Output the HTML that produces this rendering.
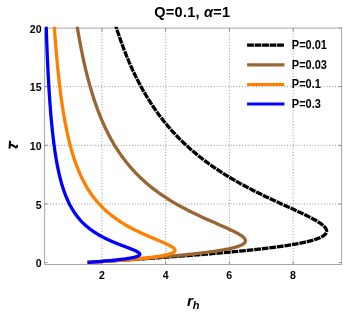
<!DOCTYPE html>
<html><head><meta charset="utf-8"><style>
html,body{margin:0;padding:0;background:#fff;}
body{width:343px;height:312px;position:relative;overflow:hidden;font-family:"Liberation Sans",sans-serif;}
svg text{font-family:"Liberation Sans",sans-serif;fill:#000;}
</style></head><body>
<svg width="343" height="312" viewBox="0 0 343 312" style="position:absolute;left:0;top:0;will-change:transform"><defs><clipPath id="cp"><rect x="44.6" y="26.8" width="297.0" height="237.70000000000002"/></clipPath></defs><g stroke="#8c8c8c" stroke-width="1" stroke-dasharray="0.9 1.92" fill="none"><line x1="101.94" y1="28.1" x2="101.94" y2="264.5"/><line x1="165.68" y1="28.1" x2="165.68" y2="264.5"/><line x1="229.42" y1="28.1" x2="229.42" y2="264.5"/><line x1="293.16" y1="28.1" x2="293.16" y2="264.5"/><line x1="44.6" y1="203.95" x2="341.6" y2="203.95"/><line x1="44.6" y1="145.30" x2="341.6" y2="145.30"/><line x1="44.6" y1="86.65" x2="341.6" y2="86.65"/></g><rect x="44.6" y="28.1" width="297.0" height="236.4" fill="none" stroke="#a8a8a8" stroke-width="1"/><g stroke="#8c8c8c" stroke-width="1" fill="none"><line x1="101.94" y1="264.5" x2="101.94" y2="261.5"/><line x1="101.94" y1="28.1" x2="101.94" y2="31.1"/><line x1="165.68" y1="264.5" x2="165.68" y2="261.5"/><line x1="165.68" y1="28.1" x2="165.68" y2="31.1"/><line x1="229.42" y1="264.5" x2="229.42" y2="261.5"/><line x1="229.42" y1="28.1" x2="229.42" y2="31.1"/><line x1="293.16" y1="264.5" x2="293.16" y2="261.5"/><line x1="293.16" y1="28.1" x2="293.16" y2="31.1"/><line x1="44.6" y1="262.60" x2="47.6" y2="262.60"/><line x1="341.6" y1="262.60" x2="338.6" y2="262.60"/><line x1="44.6" y1="203.95" x2="47.6" y2="203.95"/><line x1="341.6" y1="203.95" x2="338.6" y2="203.95"/><line x1="44.6" y1="145.30" x2="47.6" y2="145.30"/><line x1="341.6" y1="145.30" x2="338.6" y2="145.30"/><line x1="44.6" y1="86.65" x2="47.6" y2="86.65"/><line x1="341.6" y1="86.65" x2="338.6" y2="86.65"/><line x1="44.6" y1="28.00" x2="47.6" y2="28.00"/><line x1="341.6" y1="28.00" x2="338.6" y2="28.00"/></g><g clip-path="url(#cp)"><path d="M87.59,262.45L89.88,262.30L92.18,262.16L94.47,262.01L96.76,261.86L99.05,261.71L101.33,261.57L103.61,261.42L105.88,261.27L108.15,261.12L110.41,260.98L112.67,260.83L114.92,260.68L117.16,260.54L119.40,260.39L121.64,260.24L123.86,260.09L126.08,259.95L128.30,259.80L130.50,259.65L132.70,259.51L134.89,259.36L137.08,259.21L139.25,259.06L141.42,258.92L143.58,258.77L145.73,258.62L147.87,258.47L150.00,258.33L152.13,258.18L154.24,258.03L156.34,257.89L158.44,257.74L160.52,257.59L162.60,257.44L164.66,257.30L166.71,257.15L168.76,257.00L170.79,256.85L172.81,256.71L174.82,256.56L176.82,256.41L178.80,256.27L180.78,256.12L182.74,255.97L184.69,255.82L186.63,255.68L188.56,255.53L190.47,255.38L192.37,255.24L194.26,255.09L196.14,254.94L198.01,254.79L199.86,254.65L201.69,254.50L203.52,254.35L205.33,254.20L207.13,254.06L208.91,253.91L210.68,253.76L212.44,253.62L214.18,253.47L215.91,253.32L217.63,253.17L219.33,253.03L221.02,252.88L222.69,252.73L224.35,252.59L226.00,252.44L227.63,252.29L229.24,252.14L230.85,252.00L232.43,251.85L234.01,251.70L235.56,251.55L237.11,251.41L238.64,251.26L240.15,251.11L241.65,250.97L243.14,250.82L244.61,250.67L246.06,250.52L247.50,250.38L248.93,250.23L250.34,250.08L251.73,249.93L253.12,249.79L254.48,249.64L255.83,249.49L257.17,249.35L258.49,249.20L259.80,249.05L261.09,248.90L262.37,248.76L263.63,248.61L264.88,248.46L266.11,248.32L267.33,248.17L268.54,248.02L269.73,247.87L270.90,247.73L272.06,247.58L273.21,247.43L274.34,247.28L275.45,247.14L276.55,246.99L277.64,246.84L278.72,246.70L279.77,246.55L280.82,246.40L281.85,246.25L282.87,246.11L283.87,245.96L284.86,245.81L285.83,245.66L286.79,245.52L287.74,245.37L288.67,245.22L289.59,245.08L290.50,244.93L291.39,244.78L292.27,244.63L293.13,244.49L293.98,244.34L294.82,244.19L295.65,244.05L296.46,243.90L297.26,243.75L298.04,243.60L298.82,243.46L299.58,243.31L300.32,243.16L301.06,243.01L301.78,242.87L302.49,242.72L303.19,242.57L303.87,242.43L304.55,242.28L305.21,242.13L305.85,241.98L306.49,241.84L307.12,241.69L307.73,241.54L308.33,241.39L308.92,241.25L309.50,241.10L310.06,240.95L310.62,240.81L311.16,240.66L311.69,240.51L312.21,240.36L312.73,240.22L313.22,240.07L313.71,239.92L314.19,239.78L314.66,239.63L315.11,239.48L315.56,239.33L316.00,239.19L316.42,239.04L316.84,238.89L317.24,238.74L317.64,238.60L318.02,238.45L318.40,238.30L318.76,238.16L319.12,238.01L319.47,237.86L319.80,237.71L320.13,237.57L320.45,237.42L320.76,237.27L321.06,237.12L321.35,236.98L321.64,236.83L321.91,236.68L322.17,236.54L322.43,236.39L322.68,236.24L322.92,236.09L323.15,235.95L323.37,235.80L323.59,235.65L323.79,235.51L323.99,235.36L324.18,235.21L324.36,235.06L324.54,234.92L324.71,234.77L324.87,234.62L325.02,234.47L325.16,234.33L325.30,234.18L325.43,234.03L325.55,233.89L325.67,233.74L325.78,233.59L325.88,233.44L325.98,233.30L326.06,233.15L326.15,233.00L326.22,232.86L326.29,232.71L326.35,232.56L326.41,232.41L326.46,232.27L326.50,232.12L326.54,231.97L326.57,231.82L326.60,231.68L326.61,231.53L326.63,231.38L326.64,231.24L326.64,231.09L326.63,230.94L326.63,230.79L326.61,230.65L326.59,230.50L326.57,230.35L326.54,230.20L326.50,230.06L326.46,229.91L326.41,229.76L326.36,229.62L326.31,229.47L326.25,229.32L326.18,229.17L326.11,229.03L326.04,228.88L325.96,228.73L325.87,228.59L325.78,228.44L325.69,228.29L325.60,228.14L325.49,228.00L325.39,227.85L325.28,227.70L325.16,227.55L325.05,227.41L324.92,227.26L323.96,226.22L322.81,225.19L321.51,224.15L320.07,223.11L318.50,222.07L316.82,221.04L315.03,220.00L313.17,218.96L311.22,217.92L309.21,216.89L307.14,215.85L305.03,214.81L302.87,213.77L300.68,212.74L298.47,211.70L296.23,210.66L293.97,209.62L291.71,208.59L289.43,207.55L287.16,206.51L284.88,205.47L282.61,204.44L280.35,203.40L278.09,202.36L275.84,201.32L273.61,200.29L271.39,199.25L269.19,198.21L267.00,197.17L264.84,196.14L262.69,195.10L260.57,194.06L258.47,193.02L256.39,191.99L254.33,190.95L252.29,189.91L250.28,188.88L248.30,187.84L246.33,186.80L244.40,185.76L242.48,184.73L240.59,183.69L238.73,182.65L236.89,181.61L235.07,180.58L233.28,179.54L231.52,178.50L229.77,177.46L228.05,176.43L226.36,175.39L224.69,174.35L223.04,173.31L221.41,172.28L219.81,171.24L218.23,170.20L216.67,169.16L215.14,168.13L213.62,167.09L212.13,166.05L210.66,165.01L209.21,163.98L207.78,162.94L206.37,161.90L204.98,160.86L203.61,159.83L202.26,158.79L200.92,157.75L199.61,156.71L198.31,155.68L197.04,154.64L195.78,153.60L194.53,152.57L193.31,151.53L192.10,150.49L190.91,149.45L189.73,148.42L188.57,147.38L187.43,146.34L186.30,145.30L185.19,144.27L184.09,143.23L183.01,142.19L181.94,141.15L180.88,140.12L179.84,139.08L178.82,138.04L177.80,137.00L176.80,135.97L175.82,134.93L174.84,133.89L173.88,132.85L172.93,131.82L171.99,130.78L171.07,129.74L170.15,128.70L169.25,127.67L168.36,126.63L167.48,125.59L166.62,124.55L165.76,123.52L164.91,122.48L164.07,121.44L163.25,120.41L162.43,119.37L161.63,118.33L160.83,117.29L160.04,116.26L159.27,115.22L158.50,114.18L157.74,113.14L156.99,112.11L156.25,111.07L155.52,110.03L154.79,108.99L154.08,107.96L153.37,106.92L152.67,105.88L151.98,104.84L151.30,103.81L150.62,102.77L149.95,101.73L149.29,100.69L148.64,99.66L147.99,98.62L147.36,97.58L146.72,96.54L146.10,95.51L145.48,94.47L144.87,93.43L144.27,92.39L143.67,91.36L143.08,90.32L142.49,89.28L141.91,88.24L141.34,87.21L140.78,86.17L140.21,85.13L139.66,84.10L139.11,83.06L138.57,82.02L138.03,80.98L137.50,79.95L136.97,78.91L136.45,77.87L135.93,76.83L135.42,75.80L134.92,74.76L134.42,73.72L133.92,72.68L133.43,71.65L132.94,70.61L132.46,69.57L131.99,68.53L131.51,67.50L131.05,66.46L130.58,65.42L130.13,64.38L129.67,63.35L129.22,62.31L128.78,61.27L128.34,60.23L127.90,59.20L127.47,58.16L127.04,57.12L126.61,56.08L126.19,55.05L125.78,54.01L125.36,52.97L124.95,51.93L124.55,50.90L124.15,49.86L123.75,48.82L123.35,47.79L122.96,46.75L122.57,45.71L122.19,44.67L121.81,43.64L121.43,42.60L121.06,41.56L120.69,40.52L120.32,39.49L119.95,38.45L119.59,37.41L119.23,36.37L118.88,35.34L118.53,34.30L118.18,33.26L117.83,32.22L117.49,31.19L117.15,30.15L116.81,29.11L116.47,28.07L116.14,27.04L115.81,26.00L115.49,24.96L115.16,23.92L114.84,22.89L114.52,21.85L114.21,20.81" stroke="#000" stroke-width="3.3" fill="none" stroke-linejoin="round" stroke-dasharray="6.7 0.9"/><path d="M87.59,262.45L89.70,262.30L91.81,262.16L93.92,262.01L96.02,261.86L98.12,261.71L100.22,261.57L102.31,261.42L104.40,261.27L106.48,261.12L108.56,260.98L110.63,260.83L112.69,260.68L114.74,260.54L116.79,260.39L118.83,260.24L120.86,260.09L122.88,259.95L124.89,259.80L126.89,259.65L128.88,259.51L130.86,259.36L132.82,259.21L134.78,259.06L136.72,258.92L138.66,258.77L140.57,258.62L142.48,258.47L144.37,258.33L146.25,258.18L148.11,258.03L149.96,257.89L151.80,257.74L153.62,257.59L155.42,257.44L157.21,257.30L158.98,257.15L160.73,257.00L162.47,256.85L164.20,256.71L165.90,256.56L167.59,256.41L169.26,256.27L170.91,256.12L172.55,255.97L174.16,255.82L175.76,255.68L177.34,255.53L178.91,255.38L180.45,255.24L181.97,255.09L183.48,254.94L184.96,254.79L186.43,254.65L187.88,254.50L189.31,254.35L190.71,254.20L192.10,254.06L193.47,253.91L194.82,253.76L196.15,253.62L197.46,253.47L198.75,253.32L200.02,253.17L201.27,253.03L202.50,252.88L203.71,252.73L204.90,252.59L206.08,252.44L207.23,252.29L208.36,252.14L209.47,252.00L210.56,251.85L211.63,251.70L212.69,251.55L213.72,251.41L214.73,251.26L215.73,251.11L216.70,250.97L217.66,250.82L218.59,250.67L219.51,250.52L220.41,250.38L221.29,250.23L222.15,250.08L222.99,249.93L223.82,249.79L224.62,249.64L225.41,249.49L226.18,249.35L226.93,249.20L227.67,249.05L228.38,248.90L229.08,248.76L229.76,248.61L230.43,248.46L231.07,248.32L231.70,248.17L232.32,248.02L232.91,247.87L233.49,247.73L234.06,247.58L234.60,247.43L235.13,247.28L235.65,247.14L236.15,246.99L236.64,246.84L237.11,246.70L237.56,246.55L238.00,246.40L238.43,246.25L238.84,246.11L239.23,245.96L239.61,245.81L239.98,245.66L240.34,245.52L240.68,245.37L241.00,245.22L241.32,245.08L241.62,244.93L241.91,244.78L242.18,244.63L242.44,244.49L242.69,244.34L242.93,244.19L243.16,244.05L243.37,243.90L243.57,243.75L243.76,243.60L243.94,243.46L244.11,243.31L244.27,243.16L244.42,243.01L244.55,242.87L244.68,242.72L244.79,242.57L244.90,242.43L244.99,242.28L245.07,242.13L245.15,241.98L245.22,241.84L245.27,241.69L245.32,241.54L245.36,241.39L245.39,241.25L245.41,241.10L245.42,240.95L245.42,240.81L245.42,240.66L245.40,240.51L245.38,240.36L245.35,240.22L245.32,240.07L245.27,239.92L245.22,239.78L245.16,239.63L245.10,239.48L245.02,239.33L244.94,239.19L244.86,239.04L244.76,238.89L244.66,238.74L244.56,238.60L244.44,238.45L244.32,238.30L244.20,238.16L244.07,238.01L243.93,237.86L243.79,237.71L243.64,237.57L243.49,237.42L243.33,237.27L243.17,237.12L243.00,236.98L242.83,236.83L242.65,236.68L242.47,236.54L242.28,236.39L242.09,236.24L241.89,236.09L241.69,235.95L241.49,235.80L241.28,235.65L241.06,235.51L240.85,235.36L240.63,235.21L240.40,235.06L240.17,234.92L239.94,234.77L239.70,234.62L239.47,234.47L239.22,234.33L238.98,234.18L238.73,234.03L238.48,233.89L238.22,233.74L237.96,233.59L237.70,233.44L237.44,233.30L237.17,233.15L236.90,233.00L236.63,232.86L236.36,232.71L236.08,232.56L235.80,232.41L235.52,232.27L235.24,232.12L234.95,231.97L234.66,231.82L234.37,231.68L234.08,231.53L233.79,231.38L233.49,231.24L233.19,231.09L232.89,230.94L232.59,230.79L232.29,230.65L231.98,230.50L231.68,230.35L231.37,230.20L231.06,230.06L230.75,229.91L230.44,229.76L230.12,229.62L229.81,229.47L229.49,229.32L229.18,229.17L228.86,229.03L228.54,228.88L228.22,228.73L227.90,228.59L227.58,228.44L227.25,228.29L226.93,228.14L226.60,228.00L226.28,227.85L225.95,227.70L225.63,227.55L225.30,227.41L224.97,227.26L222.64,226.22L220.29,225.19L217.92,224.15L215.56,223.11L213.20,222.07L210.85,221.04L208.51,220.00L206.19,218.96L203.90,217.92L201.64,216.89L199.40,215.85L197.20,214.81L195.03,213.77L192.89,212.74L190.79,211.70L188.72,210.66L186.69,209.62L184.70,208.59L182.74,207.55L180.82,206.51L178.94,205.47L177.10,204.44L175.29,203.40L173.52,202.36L171.78,201.32L170.08,200.29L168.41,199.25L166.77,198.21L165.17,197.17L163.61,196.14L162.07,195.10L160.56,194.06L159.09,193.02L157.65,191.99L156.23,190.95L154.85,189.91L153.49,188.88L152.16,187.84L150.85,186.80L149.57,185.76L148.32,184.73L147.09,183.69L145.89,182.65L144.71,181.61L143.55,180.58L142.42,179.54L141.31,178.50L140.22,177.46L139.15,176.43L138.10,175.39L137.07,174.35L136.06,173.31L135.07,172.28L134.09,171.24L133.14,170.20L132.20,169.16L131.28,168.13L130.37,167.09L129.49,166.05L128.61,165.01L127.76,163.98L126.92,162.94L126.09,161.90L125.28,160.86L124.48,159.83L123.69,158.79L122.92,157.75L122.17,156.71L121.42,155.68L120.69,154.64L119.97,153.60L119.26,152.57L118.56,151.53L117.87,150.49L117.20,149.45L116.54,148.42L115.88,147.38L115.24,146.34L114.61,145.30L113.98,144.27L113.37,143.23L112.77,142.19L112.17,141.15L111.59,140.12L111.01,139.08L110.44,138.04L109.88,137.00L109.33,135.97L108.79,134.93L108.25,133.89L107.73,132.85L107.21,131.82L106.69,130.78L106.19,129.74L105.69,128.70L105.20,127.67L104.72,126.63L104.24,125.59L103.77,124.55L103.30,123.52L102.85,122.48L102.40,121.44L101.95,120.41L101.51,119.37L101.08,118.33L100.65,117.29L100.23,116.26L99.81,115.22L99.40,114.18L98.99,113.14L98.59,112.11L98.20,111.07L97.81,110.03L97.42,108.99L97.04,107.96L96.67,106.92L96.29,105.88L95.93,104.84L95.56,103.81L95.21,102.77L94.85,101.73L94.50,100.69L94.16,99.66L93.82,98.62L93.48,97.58L93.15,96.54L92.82,95.51L92.50,94.47L92.17,93.43L91.86,92.39L91.54,91.36L91.23,90.32L90.93,89.28L90.62,88.24L90.32,87.21L90.03,86.17L89.73,85.13L89.44,84.10L89.16,83.06L88.87,82.02L88.59,80.98L88.32,79.95L88.04,78.91L87.77,77.87L87.50,76.83L87.23,75.80L86.97,74.76L86.71,73.72L86.45,72.68L86.20,71.65L85.95,70.61L85.70,69.57L85.45,68.53L85.21,67.50L84.96,66.46L84.72,65.42L84.49,64.38L84.25,63.35L84.02,62.31L83.79,61.27L83.56,60.23L83.34,59.20L83.11,58.16L82.89,57.12L82.67,56.08L82.46,55.05L82.24,54.01L82.03,52.97L81.82,51.93L81.61,50.90L81.40,49.86L81.20,48.82L81.00,47.79L80.79,46.75L80.60,45.71L80.40,44.67L80.20,43.64L80.01,42.60L79.82,41.56L79.63,40.52L79.44,39.49L79.25,38.45L79.07,37.41L78.88,36.37L78.70,35.34L78.52,34.30L78.34,33.26L78.16,32.22L77.99,31.19L77.81,30.15L77.64,29.11L77.47,28.07L77.30,27.04L77.13,26.00L76.97,24.96L76.80,23.92L76.64,22.89L76.48,21.85L76.31,20.81" stroke="#996633" stroke-width="3.3" fill="none" stroke-linejoin="round"/><path d="M87.59,262.45L90.15,262.30L92.65,262.16L95.10,262.01L97.51,261.86L99.86,261.71L102.17,261.57L104.44,261.42L106.66,261.27L108.84,261.12L110.98,260.98L113.07,260.83L115.13,260.68L117.14,260.54L119.12,260.39L121.05,260.24L122.95,260.09L124.81,259.95L126.62,259.80L128.40,259.65L130.14,259.51L131.84,259.36L133.51,259.21L135.13,259.06L136.72,258.92L138.27,258.77L139.78,258.62L141.25,258.47L142.68,258.33L144.08,258.18L145.44,258.03L146.77,257.89L148.06,257.74L149.31,257.59L150.52,257.44L151.70,257.30L152.85,257.15L153.96,257.00L155.03,256.85L156.08,256.71L157.08,256.56L158.06,256.41L159.00,256.27L159.91,256.12L160.79,255.97L161.63,255.82L162.44,255.68L163.23,255.53L163.98,255.38L164.70,255.24L165.40,255.09L166.06,254.94L166.70,254.79L167.31,254.65L167.89,254.50L168.44,254.35L168.97,254.20L169.47,254.06L169.95,253.91L170.40,253.76L170.82,253.62L171.23,253.47L171.61,253.32L171.96,253.17L172.30,253.03L172.61,252.88L172.90,252.73L173.17,252.59L173.42,252.44L173.65,252.29L173.86,252.14L174.05,252.00L174.23,251.85L174.38,251.70L174.52,251.55L174.64,251.41L174.74,251.26L174.83,251.11L174.90,250.97L174.95,250.82L174.99,250.67L175.02,250.52L175.03,250.38L175.03,250.23L175.01,250.08L174.98,249.93L174.94,249.79L174.89,249.64L174.82,249.49L174.74,249.35L174.66,249.20L174.56,249.05L174.45,248.90L174.33,248.76L174.20,248.61L174.06,248.46L173.91,248.32L173.75,248.17L173.58,248.02L173.41,247.87L173.22,247.73L173.03,247.58L172.83,247.43L172.63,247.28L172.41,247.14L172.19,246.99L171.97,246.84L171.74,246.70L171.50,246.55L171.25,246.40L171.00,246.25L170.75,246.11L170.48,245.96L170.22,245.81L169.95,245.66L169.67,245.52L169.39,245.37L169.11,245.22L168.82,245.08L168.53,244.93L168.23,244.78L167.93,244.63L167.63,244.49L167.32,244.34L167.01,244.19L166.70,244.05L166.39,243.90L166.07,243.75L165.75,243.60L165.43,243.46L165.10,243.31L164.77,243.16L164.44,243.01L164.11,242.87L163.78,242.72L163.45,242.57L163.11,242.43L162.77,242.28L162.43,242.13L162.09,241.98L161.75,241.84L161.41,241.69L161.06,241.54L160.72,241.39L160.37,241.25L160.03,241.10L159.68,240.95L159.33,240.81L158.98,240.66L158.64,240.51L158.29,240.36L157.94,240.22L157.59,240.07L157.24,239.92L156.89,239.78L156.54,239.63L156.19,239.48L155.84,239.33L155.48,239.19L155.13,239.04L154.78,238.89L154.43,238.74L154.09,238.60L153.74,238.45L153.39,238.30L153.04,238.16L152.69,238.01L152.34,237.86L152.00,237.71L151.65,237.57L151.30,237.42L150.96,237.27L150.61,237.12L150.27,236.98L149.92,236.83L149.58,236.68L149.24,236.54L148.90,236.39L148.56,236.24L148.22,236.09L147.88,235.95L147.54,235.80L147.20,235.65L146.87,235.51L146.53,235.36L146.20,235.21L145.86,235.06L145.53,234.92L145.20,234.77L144.87,234.62L144.54,234.47L144.21,234.33L143.88,234.18L143.56,234.03L143.23,233.89L142.91,233.74L142.58,233.59L142.26,233.44L141.94,233.30L141.62,233.15L141.30,233.00L140.98,232.86L140.67,232.71L140.35,232.56L140.04,232.41L139.73,232.27L139.41,232.12L139.10,231.97L138.79,231.82L138.49,231.68L138.18,231.53L137.87,231.38L137.57,231.24L137.27,231.09L136.96,230.94L136.66,230.79L136.36,230.65L136.06,230.50L135.77,230.35L135.47,230.20L135.18,230.06L134.88,229.91L134.59,229.76L134.30,229.62L134.01,229.47L133.72,229.32L133.43,229.17L133.15,229.03L132.86,228.88L132.58,228.73L132.30,228.59L132.01,228.44L131.73,228.29L131.45,228.14L131.18,228.00L130.90,227.85L130.63,227.70L130.35,227.55L130.08,227.41L129.81,227.26L127.93,226.22L126.11,225.19L124.34,224.15L122.63,223.11L120.98,222.07L119.38,221.04L117.83,220.00L116.33,218.96L114.88,217.92L113.47,216.89L112.11,215.85L110.79,214.81L109.51,213.77L108.27,212.74L107.07,211.70L105.91,210.66L104.78,209.62L103.68,208.59L102.62,207.55L101.59,206.51L100.59,205.47L99.61,204.44L98.67,203.40L97.75,202.36L96.86,201.32L95.99,200.29L95.15,199.25L94.32,198.21L93.52,197.17L92.75,196.14L91.99,195.10L91.25,194.06L90.53,193.02L89.83,191.99L89.15,190.95L88.48,189.91L87.83,188.88L87.20,187.84L86.58,186.80L85.98,185.76L85.39,184.73L84.81,183.69L84.25,182.65L83.70,181.61L83.17,180.58L82.64,179.54L82.13,178.50L81.63,177.46L81.14,176.43L80.66,175.39L80.19,174.35L79.73,173.31L79.28,172.28L78.84,171.24L78.41,170.20L77.98,169.16L77.57,168.13L77.16,167.09L76.77,166.05L76.38,165.01L75.99,163.98L75.62,162.94L75.25,161.90L74.89,160.86L74.54,159.83L74.19,158.79L73.85,157.75L73.52,156.71L73.19,155.68L72.87,154.64L72.55,153.60L72.24,152.57L71.93,151.53L71.63,150.49L71.34,149.45L71.05,148.42L70.76,147.38L70.48,146.34L70.21,145.30L69.94,144.27L69.67,143.23L69.41,142.19L69.15,141.15L68.90,140.12L68.65,139.08L68.40,138.04L68.16,137.00L67.92,135.97L67.69,134.93L67.46,133.89L67.23,132.85L67.01,131.82L66.79,130.78L66.57,129.74L66.36,128.70L66.15,127.67L65.94,126.63L65.74,125.59L65.54,124.55L65.34,123.52L65.14,122.48L64.95,121.44L64.76,120.41L64.57,119.37L64.39,118.33L64.20,117.29L64.02,116.26L63.85,115.22L63.67,114.18L63.50,113.14L63.33,112.11L63.16,111.07L63.00,110.03L62.83,108.99L62.67,107.96L62.51,106.92L62.35,105.88L62.20,104.84L62.05,103.81L61.89,102.77L61.74,101.73L61.60,100.69L61.45,99.66L61.31,98.62L61.17,97.58L61.02,96.54L60.89,95.51L60.75,94.47L60.61,93.43L60.48,92.39L60.35,91.36L60.22,90.32L60.09,89.28L59.96,88.24L59.83,87.21L59.71,86.17L59.59,85.13L59.46,84.10L59.34,83.06L59.22,82.02L59.11,80.98L58.99,79.95L58.87,78.91L58.76,77.87L58.65,76.83L58.54,75.80L58.43,74.76L58.32,73.72L58.21,72.68L58.10,71.65L58.00,70.61L57.89,69.57L57.79,68.53L57.69,67.50L57.58,66.46L57.48,65.42L57.38,64.38L57.29,63.35L57.19,62.31L57.09,61.27L57.00,60.23L56.90,59.20L56.81,58.16L56.72,57.12L56.63,56.08L56.54,55.05L56.45,54.01L56.36,52.97L56.27,51.93L56.18,50.90L56.09,49.86L56.01,48.82L55.92,47.79L55.84,46.75L55.76,45.71L55.68,44.67L55.59,43.64L55.51,42.60L55.43,41.56L55.35,40.52L55.28,39.49L55.20,38.45L55.12,37.41L55.04,36.37L54.97,35.34L54.89,34.30L54.82,33.26L54.74,32.22L54.67,31.19L54.60,30.15L54.53,29.11L54.46,28.07L54.39,27.04L54.32,26.00L54.25,24.96L54.18,23.92L54.11,22.89L54.04,21.85L53.97,20.81" stroke="#ff8000" stroke-width="3.3" fill="none" stroke-linejoin="round"/><path d="M87.59,262.45L89.52,262.30L91.43,262.16L93.31,262.01L95.17,261.86L97.01,261.71L98.81,261.57L100.58,261.42L102.32,261.27L104.02,261.12L105.69,260.98L107.33,260.83L108.92,260.68L110.48,260.54L112.00,260.39L113.47,260.24L114.91,260.09L116.31,259.95L117.66,259.80L118.97,259.65L120.23,259.51L121.46,259.36L122.64,259.21L123.78,259.06L124.87,258.92L125.92,258.77L126.93,258.62L127.89,258.47L128.81,258.33L129.69,258.18L130.52,258.03L131.32,257.89L132.07,257.74L132.79,257.59L133.46,257.44L134.10,257.30L134.69,257.15L135.25,257.00L135.77,256.85L136.26,256.71L136.71,256.56L137.12,256.41L137.50,256.27L137.85,256.12L138.17,255.97L138.46,255.82L138.71,255.68L138.94,255.53L139.13,255.38L139.30,255.24L139.45,255.09L139.57,254.94L139.66,254.79L139.73,254.65L139.77,254.50L139.79,254.35L139.79,254.20L139.77,254.06L139.73,253.91L139.67,253.76L139.60,253.62L139.50,253.47L139.39,253.32L139.26,253.17L139.11,253.03L138.95,252.88L138.78,252.73L138.59,252.59L138.39,252.44L138.18,252.29L137.95,252.14L137.72,252.00L137.47,251.85L137.21,251.70L136.94,251.55L136.67,251.41L136.38,251.26L136.09,251.11L135.79,250.97L135.48,250.82L135.17,250.67L134.84,250.52L134.52,250.38L134.18,250.23L133.84,250.08L133.50,249.93L133.15,249.79L132.80,249.64L132.44,249.49L132.08,249.35L131.72,249.20L131.35,249.05L130.98,248.90L130.61,248.76L130.23,248.61L129.86,248.46L129.48,248.32L129.10,248.17L128.71,248.02L128.33,247.87L127.94,247.73L127.56,247.58L127.17,247.43L126.78,247.28L126.40,247.14L126.01,246.99L125.62,246.84L125.23,246.70L124.84,246.55L124.45,246.40L124.07,246.25L123.68,246.11L123.29,245.96L122.91,245.81L122.52,245.66L122.13,245.52L121.75,245.37L121.37,245.22L120.99,245.08L120.60,244.93L120.23,244.78L119.85,244.63L119.47,244.49L119.09,244.34L118.72,244.19L118.35,244.05L117.97,243.90L117.60,243.75L117.24,243.60L116.87,243.46L116.51,243.31L116.14,243.16L115.78,243.01L115.42,242.87L115.06,242.72L114.71,242.57L114.35,242.43L114.00,242.28L113.65,242.13L113.30,241.98L112.95,241.84L112.61,241.69L112.27,241.54L111.93,241.39L111.59,241.25L111.25,241.10L110.92,240.95L110.58,240.81L110.25,240.66L109.92,240.51L109.60,240.36L109.27,240.22L108.95,240.07L108.63,239.92L108.31,239.78L107.99,239.63L107.68,239.48L107.37,239.33L107.06,239.19L106.75,239.04L106.44,238.89L106.14,238.74L105.84,238.60L105.53,238.45L105.24,238.30L104.94,238.16L104.65,238.01L104.35,237.86L104.06,237.71L103.77,237.57L103.49,237.42L103.20,237.27L102.92,237.12L102.64,236.98L102.36,236.83L102.08,236.68L101.81,236.54L101.53,236.39L101.26,236.24L100.99,236.09L100.73,235.95L100.46,235.80L100.20,235.65L99.93,235.51L99.67,235.36L99.41,235.21L99.16,235.06L98.90,234.92L98.65,234.77L98.40,234.62L98.15,234.47L97.90,234.33L97.65,234.18L97.41,234.03L97.16,233.89L96.92,233.74L96.68,233.59L96.45,233.44L96.21,233.30L95.97,233.15L95.74,233.00L95.51,232.86L95.28,232.71L95.05,232.56L94.82,232.41L94.60,232.27L94.38,232.12L94.15,231.97L93.93,231.82L93.71,231.68L93.50,231.53L93.28,231.38L93.06,231.24L92.85,231.09L92.64,230.94L92.43,230.79L92.22,230.65L92.01,230.50L91.81,230.35L91.60,230.20L91.40,230.06L91.20,229.91L90.99,229.76L90.80,229.62L90.60,229.47L90.40,229.32L90.21,229.17L90.01,229.03L89.82,228.88L89.63,228.73L89.44,228.59L89.25,228.44L89.06,228.29L88.87,228.14L88.69,228.00L88.50,227.85L88.32,227.70L88.14,227.55L87.96,227.41L87.78,227.26L86.55,226.22L85.37,225.19L84.25,224.15L83.17,223.11L82.14,222.07L81.15,221.04L80.21,220.00L79.30,218.96L78.43,217.92L77.59,216.89L76.78,215.85L76.01,214.81L75.26,213.77L74.55,212.74L73.85,211.70L73.19,210.66L72.54,209.62L71.92,208.59L71.32,207.55L70.75,206.51L70.19,205.47L69.64,204.44L69.12,203.40L68.61,202.36L68.12,201.32L67.65,200.29L67.19,199.25L66.74,198.21L66.30,197.17L65.88,196.14L65.47,195.10L65.08,194.06L64.69,193.02L64.31,191.99L63.95,190.95L63.59,189.91L63.25,188.88L62.91,187.84L62.58,186.80L62.27,185.76L61.95,184.73L61.65,183.69L61.36,182.65L61.07,181.61L60.79,180.58L60.51,179.54L60.24,178.50L59.98,177.46L59.73,176.43L59.48,175.39L59.23,174.35L58.99,173.31L58.76,172.28L58.53,171.24L58.31,170.20L58.09,169.16L57.88,168.13L57.67,167.09L57.46,166.05L57.26,165.01L57.06,163.98L56.87,162.94L56.68,161.90L56.50,160.86L56.32,159.83L56.14,158.79L55.97,157.75L55.80,156.71L55.63,155.68L55.46,154.64L55.30,153.60L55.14,152.57L54.99,151.53L54.84,150.49L54.69,149.45L54.54,148.42L54.39,147.38L54.25,146.34L54.11,145.30L53.97,144.27L53.84,143.23L53.71,142.19L53.58,141.15L53.45,140.12L53.32,139.08L53.20,138.04L53.08,137.00L52.96,135.97L52.84,134.93L52.72,133.89L52.61,132.85L52.49,131.82L52.38,130.78L52.27,129.74L52.17,128.70L52.06,127.67L51.96,126.63L51.85,125.59L51.75,124.55L51.65,123.52L51.56,122.48L51.46,121.44L51.36,120.41L51.27,119.37L51.18,118.33L51.09,117.29L51.00,116.26L50.91,115.22L50.82,114.18L50.73,113.14L50.65,112.11L50.56,111.07L50.48,110.03L50.40,108.99L50.32,107.96L50.24,106.92L50.16,105.88L50.08,104.84L50.01,103.81L49.93,102.77L49.86,101.73L49.78,100.69L49.71,99.66L49.64,98.62L49.57,97.58L49.50,96.54L49.43,95.51L49.36,94.47L49.29,93.43L49.22,92.39L49.16,91.36L49.09,90.32L49.03,89.28L48.97,88.24L48.90,87.21L48.84,86.17L48.78,85.13L48.72,84.10L48.66,83.06L48.60,82.02L48.54,80.98L48.48,79.95L48.43,78.91L48.37,77.87L48.31,76.83L48.26,75.80L48.20,74.76L48.15,73.72L48.09,72.68L48.04,71.65L47.99,70.61L47.94,69.57L47.89,68.53L47.83,67.50L47.78,66.46L47.73,65.42L47.69,64.38L47.64,63.35L47.59,62.31L47.54,61.27L47.49,60.23L47.45,59.20L47.40,58.16L47.35,57.12L47.31,56.08L47.26,55.05L47.22,54.01L47.18,52.97L47.13,51.93L47.09,50.90L47.05,49.86L47.00,48.82L46.96,47.79L46.92,46.75L46.88,45.71L46.84,44.67L46.80,43.64L46.76,42.60L46.72,41.56L46.68,40.52L46.64,39.49L46.60,38.45L46.56,37.41L46.53,36.37L46.49,35.34L46.45,34.30L46.41,33.26L46.38,32.22L46.34,31.19L46.31,30.15L46.27,29.11L46.24,28.07L46.20,27.04L46.17,26.00L46.13,24.96L46.10,23.92L46.06,22.89L46.03,21.85L46.00,20.81" stroke="#0000ff" stroke-width="3.3" fill="none" stroke-linejoin="round"/></g><line x1="247.1" y1="45.1" x2="284.4" y2="45.1" stroke="#000" stroke-width="3.1" stroke-dasharray="6.8 0.7"/><text transform="translate(291.8,48.7) scale(1,1.08)" font-size="11" font-weight="bold">P=0.01</text><line x1="247.1" y1="64.9" x2="284.4" y2="64.9" stroke="#996633" stroke-width="3.1"/><text transform="translate(291.8,68.5) scale(1,1.08)" font-size="11" font-weight="bold">P=0.03</text><line x1="247.1" y1="84.5" x2="284.4" y2="84.5" stroke="#ff8000" stroke-width="3.1"/><text transform="translate(291.8,88.1) scale(1,1.08)" font-size="11" font-weight="bold">P=0.1</text><line x1="247.1" y1="104.0" x2="284.4" y2="104.0" stroke="#0000ff" stroke-width="3.1"/><text transform="translate(291.8,107.6) scale(1,1.08)" font-size="11" font-weight="bold">P=0.3</text><text transform="translate(41.6,267.20) scale(1,1.085)" font-size="10.6" font-weight="bold" text-anchor="end">0</text><text transform="translate(41.6,208.55) scale(1,1.085)" font-size="10.6" font-weight="bold" text-anchor="end">5</text><text transform="translate(41.6,149.90) scale(1,1.085)" font-size="10.6" font-weight="bold" text-anchor="end">10</text><text transform="translate(41.6,91.25) scale(1,1.085)" font-size="10.6" font-weight="bold" text-anchor="end">15</text><text transform="translate(41.6,32.60) scale(1,1.085)" font-size="10.6" font-weight="bold" text-anchor="end">20</text><text transform="translate(101.84,279.25) scale(1,1.085)" font-size="10.6" font-weight="bold" text-anchor="middle">2</text><text transform="translate(165.58,279.25) scale(1,1.085)" font-size="10.6" font-weight="bold" text-anchor="middle">4</text><text transform="translate(229.32,279.25) scale(1,1.085)" font-size="10.6" font-weight="bold" text-anchor="middle">6</text><text transform="translate(293.06,279.25) scale(1,1.085)" font-size="10.6" font-weight="bold" text-anchor="middle">8</text><text x="154.3" y="16.5" font-size="14.5" font-weight="bold" textLength="75.8" lengthAdjust="spacing">Q=0.1, <tspan font-style="italic">α</tspan>=1</text><path d="M10.0,141.5L9.6,147.8M10.4,144.5C12.5,145.0 14.2,146.1 15.4,147.1C16.3,147.8 17.3,147.2 17.0,145.7" stroke="#000" stroke-width="2" fill="none" stroke-linecap="round"/><text x="187.0" y="305.6" font-size="15.4" font-weight="bold" font-style="italic">r</text><text x="192.8" y="309.1" font-size="11" font-weight="bold" font-style="italic">h</text></svg>
</body></html>
